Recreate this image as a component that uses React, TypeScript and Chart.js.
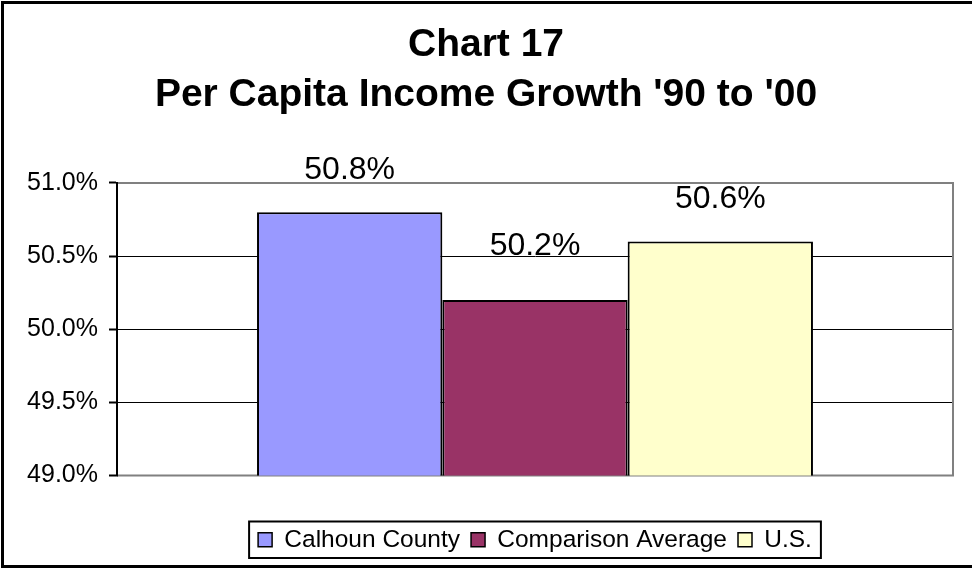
import React, { useEffect, useRef } from "react";
import { Chart, registerables } from "chart.js";

Chart.register(...registerables);

const titleLines = ["Chart 17", "Per Capita Income Growth '90 to '00"];
const categories = [""];
const seriesNames = ["Calhoun County", "Comparison Average", "U.S."];
const seriesValues = [50.8, 50.2, 50.6];
const seriesColors = ["#9999FF", "#993366", "#FFFFCC"];
const yMin = 49.0;
const yMax = 51.0;
const yStep = 0.5;

const FONT = "'Liberation Sans', Arial, Helvetica, sans-serif";

const framePlugin = {
  id: "frames",
  beforeDraw(chart: any) {
    const ctx = chart.ctx;
    ctx.save();
    ctx.fillStyle = "#ffffff";
    ctx.fillRect(0, 0, chart.width, chart.height);
    ctx.restore();
  },
  afterLayout(chart: any) {
    // centre the legend under the plot area
    const lg = chart.legend;
    const a = chart.chartArea;
    if (lg && a) {
      const shift = (a.left + a.right) / 2 - (lg.left + lg.right) / 2;
      lg.left += shift;
      lg.right += shift;
    }
    // centre the title on the outer frame
    const tb = chart.titleBlock;
    if (tb) {
      const shiftT = 486 - (tb.left + tb.right) / 2;
      tb.left += shiftT;
      tb.right += shiftT;
    }
  },
  beforeDatasetsDraw(chart: any) {
    const { ctx, chartArea: a } = chart;
    ctx.save();
    ctx.strokeStyle = "#808080";
    ctx.lineWidth = 2;
    ctx.beginPath();
    ctx.moveTo(a.left, a.top);
    ctx.lineTo(a.right, a.top);
    ctx.lineTo(a.right, a.bottom);
    ctx.lineTo(a.left, a.bottom);
    ctx.stroke();
    ctx.strokeStyle = "#000000";
    ctx.beginPath();
    ctx.moveTo(a.left, a.top - 1);
    ctx.lineTo(a.left, a.bottom + 1);
    ctx.stroke();
    ctx.restore();
  },
  afterDatasetsDraw(chart: any) {
    const ctx = chart.ctx;
    ctx.save();
    ctx.font = `32px ${FONT}`;
    ctx.fillStyle = "#000000";
    ctx.textAlign = "center";
    ctx.textBaseline = "alphabetic";
    chart.data.datasets.forEach((ds: any, i: number) => {
      const meta = chart.getDatasetMeta(i);
      meta.data.forEach((bar: any, j: number) => {
        const v = ds.data[j];
        const lift = i === 1 ? 45 : 33;
        ctx.fillText(v.toFixed(1) + "%", bar.x, bar.y - lift);
      });
    });
    ctx.restore();
  },
  afterDraw(chart: any) {
    const ctx = chart.ctx;
    ctx.save();
    ctx.strokeStyle = "#000000";
    ctx.lineWidth = 3;
    ctx.beginPath();
    ctx.moveTo(chart.width + 5, 2.5);
    ctx.lineTo(2.5, 2.5);
    ctx.lineTo(2.5, 566.5);
    ctx.lineTo(chart.width + 5, 566.5);
    ctx.stroke();
    const lg = chart.legend;
    if (lg && lg.legendHitBoxes && lg.legendHitBoxes.length) {
      const hb = lg.legendHitBoxes;
      let l = Infinity, r = -Infinity, t = Infinity, b = -Infinity;
      hb.forEach((h: any) => {
        l = Math.min(l, h.left);
        r = Math.max(r, h.left + h.width);
        t = Math.min(t, h.top);
        b = Math.max(b, h.top + h.height);
      });
      ctx.lineWidth = 2;
      ctx.strokeRect(l - 9, t - 6, r - l + 18, b - t + 12);
    }
    ctx.restore();
  },
};

export default function App() {
  const ref = useRef<HTMLCanvasElement | null>(null);
  useEffect(() => {
    if (!ref.current) return;
    const chart = new Chart(ref.current, {
      type: "bar",
      data: {
        labels: categories,
        datasets: seriesNames.map((name, i) => ({
          label: name,
          data: [seriesValues[i]],
          backgroundColor: seriesColors[i],
          borderColor: "#000000",
          borderWidth: 2,
          borderSkipped: false,
          barPercentage: 1,
          categoryPercentage: 0.665,
        })),
      },
      options: {
        responsive: false,
        animation: false,
        devicePixelRatio: 1,
        layout: { padding: { left: 0, right: 19, top: 0, bottom: 8 } },
        plugins: {
          tooltip: { enabled: false },
          title: {
            display: true,
            text: titleLines,
            color: "#000000",
            font: { family: FONT, size: 39, weight: "bold", lineHeight: 1.282 },
            padding: { top: 20, bottom: 63 },
          },
          legend: {
            display: true,
            position: "bottom",
            labels: {
              color: "#000000",
              font: { family: FONT, size: 24.5 },
              boxWidth: 14,
              boxHeight: 14,
              padding: 11,
              generateLabels: (c: any) =>
                c.data.datasets.map((ds: any, i: number) => ({
                  text: ds.label,
                  fillStyle: ds.backgroundColor,
                  strokeStyle: "#000000",
                  lineWidth: 1.5,
                  datasetIndex: i,
                  hidden: false,
                })),
            },
          },
        },
        scales: {
          x: {
            display: true,
            grid: { display: false },
            border: { display: false },
            ticks: { display: false },
            afterFit: (s: any) => {
              s.height = 41;
            },
          },
          y: {
            min: yMin,
            max: yMax,
            afterFit: (s: any) => {
              s.width = 117;
            },
            grid: {
              color: "#000000",
              lineWidth: 1,
              drawTicks: true,
              tickLength: 8,
              tickColor: "#000000",
              tickWidth: 2,
            },
            border: { display: true, color: "#000000", width: 2 },
            ticks: {
              stepSize: yStep,
              padding: 11,
              color: "#000000",
              font: { family: FONT, size: 25 },
              callback: (v: any) => Number(v).toFixed(1) + "%",
            },
          },
        },
      },
      plugins: [framePlugin],
    });
    return () => chart.destroy();
  }, []);
  return (
    <div style={{ position: "absolute", left: 0, top: 0, width: 972, height: 570 }}>
      <canvas ref={ref} width={972} height={570} style={{ display: "block" }} />
    </div>
  );
}
